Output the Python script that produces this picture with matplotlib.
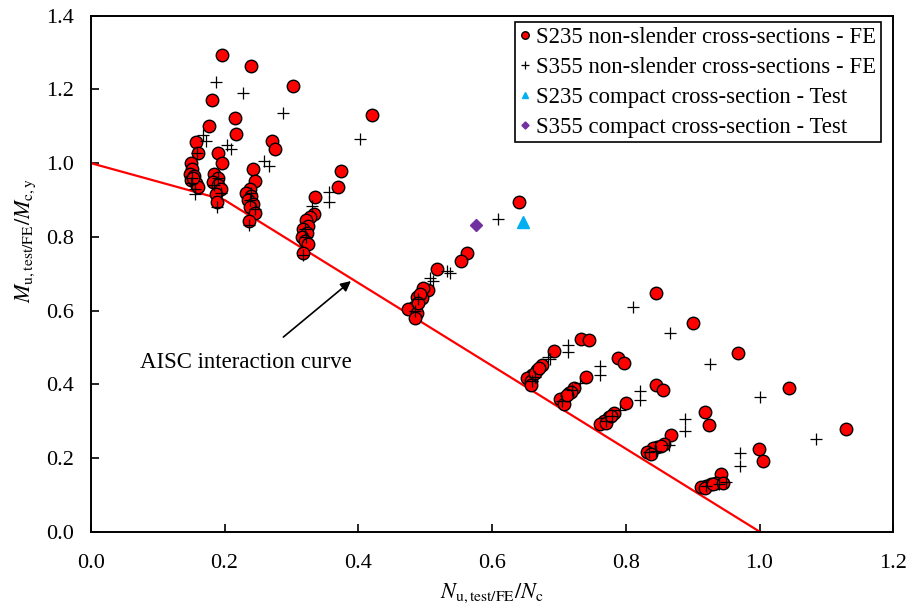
import matplotlib
matplotlib.use("Agg")
import matplotlib.pyplot as plt
import numpy as np

plt.rcParams['font.family'] = ['Liberation Serif', 'DejaVu Serif']
plt.rcParams['mathtext.fontset'] = 'stix'

# S235 non-slender cross-sections - FE (N/Nc, M/Mc)
x235 = [0.197, 0.181, 0.177, 0.157, 0.160, 0.150, 0.152, 0.148, 0.155, 0.150, 0.158, 0.160, 0.153,
        0.239, 0.216, 0.217, 0.190, 0.196, 0.185, 0.190, 0.183, 0.190, 0.195, 0.187, 0.189,
        0.302, 0.271, 0.276, 0.242, 0.246, 0.238, 0.232, 0.240, 0.235, 0.243, 0.238, 0.245, 0.237,
        0.420, 0.374, 0.369, 0.335, 0.334, 0.328, 0.322, 0.325, 0.318, 0.323, 0.316, 0.320, 0.325, 0.318,
        0.640, 0.563, 0.553, 0.518, 0.505, 0.497, 0.488, 0.495, 0.483, 0.475, 0.488, 0.485, 0.492, 0.490,
        0.845, 0.733, 0.745, 0.692, 0.674, 0.667, 0.660, 0.653, 0.658, 0.658, 0.664, 0.670,
        0.901, 0.789, 0.797, 0.740, 0.723, 0.715, 0.708, 0.702, 0.708, 0.718, 0.712,
        0.968, 0.845, 0.855, 0.800, 0.782, 0.775, 0.767, 0.762, 0.770, 0.778,
        1.044, 0.918, 0.924, 0.867, 0.857, 0.847, 0.840, 0.832, 0.837, 0.852,
        1.130, 0.999, 1.005, 0.943, 0.935, 0.928, 0.920, 0.912, 0.918, 0.930, 0.945]
y235 = [1.293, 1.171, 1.100, 1.058, 1.028, 0.999, 0.985, 0.970, 0.965, 0.955, 0.945, 0.935, 0.960,
        1.263, 1.123, 1.080, 1.027, 0.999, 0.970, 0.960, 0.950, 0.940, 0.930, 0.915, 0.895,
        1.209, 1.061, 1.038, 0.983, 0.951, 0.930, 0.920, 0.910, 0.900, 0.890, 0.880, 0.865, 0.844,
        1.130, 0.979, 0.934, 0.907, 0.861, 0.855, 0.845, 0.830, 0.820, 0.810, 0.800, 0.790, 0.780, 0.757,
        0.895, 0.756, 0.735, 0.713, 0.657, 0.660, 0.637, 0.633, 0.610, 0.603, 0.592, 0.579, 0.645, 0.620,
        0.648, 0.524, 0.520, 0.491, 0.452, 0.439, 0.425, 0.416, 0.409, 0.398, 0.430, 0.445,
        0.567, 0.470, 0.457, 0.420, 0.389, 0.375, 0.362, 0.359, 0.346, 0.380, 0.370,
        0.486, 0.397, 0.383, 0.350, 0.321, 0.312, 0.301, 0.292, 0.295, 0.315,
        0.391, 0.324, 0.289, 0.263, 0.237, 0.230, 0.226, 0.217, 0.211, 0.232,
        0.279, 0.224, 0.192, 0.157, 0.132, 0.128, 0.125, 0.120, 0.118, 0.130, 0.133]

# S355 non-slender cross-sections - FE
x355 = [0.188, 0.168, 0.173, 0.159, 0.156, 0.156, 0.152, 0.150,
        0.227, 0.204, 0.210, 0.190, 0.185, 0.189, 0.195,
        0.288, 0.259, 0.267, 0.240, 0.238, 0.237, 0.245,
        0.402, 0.356, 0.356, 0.331, 0.320, 0.322, 0.318,
        0.609, 0.533, 0.537, 0.508, 0.511, 0.490, 0.485,
        0.811, 0.714, 0.713, 0.683, 0.687, 0.660, 0.665,
        0.866, 0.761, 0.761, 0.732, 0.720, 0.705,
        0.926, 0.821, 0.821, 0.792, 0.770, 0.780,
        1.001, 0.889, 0.889, 0.865, 0.845, 0.835,
        1.084, 0.971, 0.971, 0.950, 0.940, 0.920]
y355 = [1.219, 1.076, 1.060, 1.027, 0.930, 0.915, 0.960, 0.945,
        1.190, 1.049, 1.039, 0.960, 0.940, 0.882, 0.920,
        1.137, 1.006, 0.992, 0.920, 0.900, 0.833, 0.875,
        1.065, 0.921, 0.895, 0.885, 0.820, 0.800, 0.750,
        0.848, 0.706, 0.701, 0.687, 0.681, 0.630, 0.600,
        0.609, 0.506, 0.487, 0.475, 0.468, 0.410, 0.420,
        0.540, 0.450, 0.425, 0.404, 0.385, 0.355,
        0.455, 0.381, 0.357, 0.330, 0.300, 0.315,
        0.364, 0.306, 0.274, 0.235, 0.220, 0.215,
        0.252, 0.214, 0.179, 0.135, 0.130, 0.123]

# compact cross-section tests
x235_test = [0.646]
y235_test = [0.841]
x355_test = [0.576]
y355_test = [0.833]

# AISC interaction curve
curve_n = [0.0, 0.2, 1.0]
curve_m = [1.0, 0.9, 0.0]

fig = plt.figure(figsize=(9.12, 6.05), dpi=100)
ax = fig.add_axes([0.0995, 0.1213, 0.88, 0.8527])

ax.plot(curve_n, curve_m, color='#FF0000', lw=1.6, zorder=2)

ax.plot(x235, y235, 'o', ls='none', ms=9, mfc='#FF0000', mec='black', mew=1.0,
        label='S235 non-slender cross-sections - FE', zorder=3)
ax.plot(x355, y355, '+', ls='none', ms=9, color='black', mew=0.9,
        label='S355 non-slender cross-sections - FE', zorder=4)
ax.plot(x235_test, y235_test, '^', ls='none', ms=8, color='#00B0F0',
        label='S235 compact cross-section - Test', zorder=4)
ax.plot(x355_test, y355_test, 'D', ls='none', ms=6, color='#7030A0',
        label='S355 compact cross-section - Test', zorder=4)

# annotation: label text and arrow pointing to the curve
ax.text(0.232, 0.460, 'AISC interaction curve', fontsize=16.5, ha='center', va='center')
ax.annotate('', xy=(0.389, 0.680), xytext=(0.288, 0.528),
            arrowprops=dict(arrowstyle='-|>', color='black', lw=1.2, mutation_scale=15,
                            shrinkA=0, shrinkB=0))

ax.set_xlim(0, 1.2)
ax.set_ylim(0, 1.4)
ax.set_xticks(np.arange(0, 1.21, 0.2))
ax.set_yticks(np.arange(0, 1.41, 0.2))
ax.xaxis.set_major_formatter(matplotlib.ticker.FormatStrFormatter('%.1f'))
ax.yaxis.set_major_formatter(matplotlib.ticker.FormatStrFormatter('%.1f'))
ax.tick_params(direction='in', length=6, width=1.2, labelsize=16,
               top=False, right=False)
ax.tick_params(axis='x', pad=16)
ax.tick_params(axis='y', pad=12)
for s in ax.spines.values():
    s.set_linewidth(1.4)

ax.set_xlabel(r'$N_{\mathrm{u,test/FE}}/N_{\mathrm{c}}$', fontsize=16, labelpad=6)
ax.set_ylabel(r'$M_{\mathrm{u,test/FE}}/M_{\mathrm{c,y}}$', fontsize=16)
ax.yaxis.set_label_coords(-0.066, 0.565)

leg = ax.legend(loc='upper right', bbox_to_anchor=(0.9847, 0.987), fontsize=16.4,
                frameon=True, fancybox=False, edgecolor='black', framealpha=1,
                handlelength=0.5, handletextpad=0.25, borderpad=0.2,
                labelspacing=0.39, markerscale=0.6, borderaxespad=0)
leg.get_frame().set_linewidth(1.2)

fig.savefig('out.png', dpi=100)
